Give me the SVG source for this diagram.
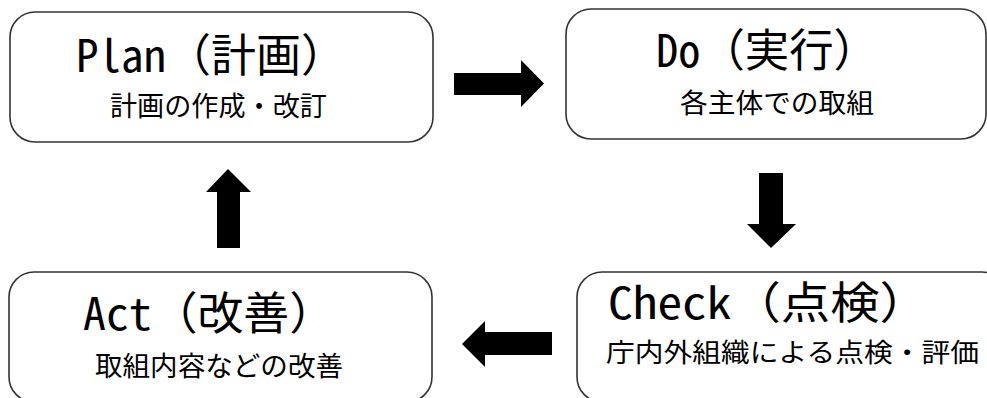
<svg xmlns="http://www.w3.org/2000/svg" width="987" height="398" viewBox="0 0 987 398">
<style>
.box{fill:#fff;stroke:#333;stroke-width:1.6}
.title{font-family:"Noto Sans Mono CJK JP","Noto Sans CJK JP",sans-serif;font-size:45px;fill:#000}
.sub{font-family:"Noto Sans CJK JP",sans-serif;font-size:27px;fill:#000}
.arrow{fill:#000;stroke:none}
</style>
<rect width="987" height="398" fill="#fff"/>
<g id="plan">
<rect class="box" x="10" y="12" width="423" height="130" rx="25"/>
<text class="title" x="76" y="72" textLength="270" lengthAdjust="spacingAndGlyphs">Plan（計画）</text>
<text class="sub" x="110" y="116" textLength="217" lengthAdjust="spacingAndGlyphs">計画の作成・改訂</text>
</g>
<g id="do">
<rect class="box" x="566" y="9" width="420" height="130" rx="25"/>
<text class="title" x="656" y="67" textLength="222" lengthAdjust="spacingAndGlyphs">Do（実行）</text>
<text class="sub" x="680" y="113" textLength="194" lengthAdjust="spacingAndGlyphs">各主体での取組</text>
</g>
<g id="check">
<rect class="box" x="577" y="272" width="430" height="130" rx="25"/>
<text class="title" x="608" y="319" style="font-size:44px" textLength="321" lengthAdjust="spacingAndGlyphs">Check（点検）</text>
<text class="sub" x="606" y="362" style="font-size:26px" textLength="373" lengthAdjust="spacingAndGlyphs">庁内外組織による点検・評価</text>
</g>
<g id="act">
<rect class="box" x="9" y="272" width="423" height="130" rx="25"/>
<text class="title" x="83" y="330" textLength="252" lengthAdjust="spacingAndGlyphs">Act（改善）</text>
<text class="sub" x="95" y="376" textLength="248" lengthAdjust="spacingAndGlyphs">取組内容などの改善</text>
</g>
<g id="connectors">
<polygon class="arrow" points="454,73 521,73 521,60 544,83.5 521,107 521,95 454,95"/>
<polygon class="arrow" points="759,173 783,173 783,224 796,224 771,248 747,224 759,224"/>
<polygon class="arrow" points="552,332 485,332 485,321 462,344 485,367 485,355 552,355"/>
<polygon class="arrow" points="217,248 240,248 240,192 251,192 228,169 206,192 217,192"/>
</g>
</svg>
